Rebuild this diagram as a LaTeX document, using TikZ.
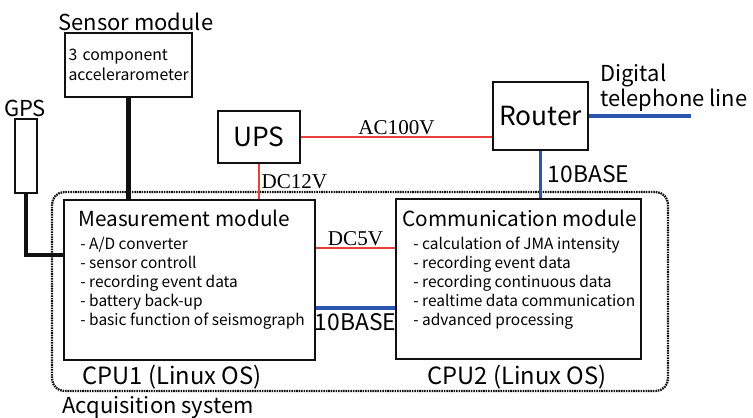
\documentclass[tikz,border=0pt]{standalone}
\usepackage{fontspec}
\setmainfont{Noto Sans CJK JP}
\newfontfamily\voltfont{Liberation Serif}
\usetikzlibrary{positioning,calc}
\definecolor{LinkRed} {HTML}{E8403A}
\definecolor{LinkBlue}{HTML}{2A56B0}
\definecolor{LineBlack}{HTML}{111111}

\begin{document}
\begin{tikzpicture}[x=0.02cm,y=-0.02cm,
    unit/.style={draw=LineBlack,line width=1.1pt,inner sep=0pt},
    bigtext/.style={font=\fontsize{12.5}{14}\selectfont},
    smalltext/.style={font=\fontsize{8.8}{10.8}\selectfont,align=left,anchor=north west,inner sep=0pt},
    volttext/.style={font=\voltfont\fontsize{12}{13}\selectfont,text=black,inner sep=1pt},
    lantext/.style={font=\fontsize{13}{14}\selectfont,text=black},
    serial/.style={line width=2.4pt,LineBlack},
    power/.style={line width=0.9pt,LinkRed},
    lan/.style={line width=1.8pt,LinkBlue}]
    \useasboundingbox (0,0) rectangle (753,417);
    % Acquisition system
    \draw[LineBlack,line width=1.3pt,dash pattern=on 0.9pt off 0.5pt,rounded corners=7pt]
      (52,192) rectangle (668,391);
    \node[bigtext,anchor=west,inner sep=0pt] (acqlbl) at (62,408) {Acquisition system};
    % Sensor module
    \node[bigtext] (sensorlbl) at (136,22) {Sensor module};
    \node[unit,minimum width=2.54cm,minimum height=1.28cm,
          font=\fontsize{9}{11}\selectfont,align=left,text width=2.4cm] (sensor) at (128.5,65)
      {3 component\\accelerarometer};
    % GPS
    \node[bigtext] (gpslbl) at (25,108) {GPS};
    \node[unit,minimum width=0.44cm,minimum height=1.48cm] (gps) at (26,156) {};
    % UPS
    \node[unit,minimum width=1.64cm,minimum height=1.04cm,font=\fontsize{15}{16}\selectfont] (ups) at (259,137) {UPS};
    % Router
    \node[unit,minimum width=1.9cm,minimum height=1.36cm,font=\fontsize{15}{16}\selectfont] (router) at (540.5,116) {Router};
    \coordinate (phone) at (691,116);
    \node[bigtext,anchor=north west,align=left,inner sep=0pt] (phonelbl) at (600,64) {Digital\\telephone line};
    % Measurement module
    \node[unit,minimum width=5.02cm,minimum height=3.2cm] (meas) at (189.5,280) {};
    \node[font=\fontsize{11.8}{13}\selectfont,anchor=west,inner sep=0pt] (meastitle) at (78,218) {Measurement module};
    \node[smalltext] (measlist) at (80,237)
      {- A/D converter\\- sensor controll\\- recording event data\\- battery back-up\\- basic function of seismograph};
    \node[font=\fontsize{13.5}{15}\selectfont] (cpu1) at (172,377) {CPU1 (Linux OS)};
    % Communication module
    \node[unit,minimum width=4.9cm,minimum height=3.2cm] (comm) at (518.5,279) {};
    \node[font=\fontsize{11.8}{13}\selectfont,anchor=west,inner sep=0pt] (commtitle) at (402,218) {Communication module};
    \node[smalltext] (commlist) at (413,237)
      {- calculation of JMA intensity\\- recording event data\\- recording continuous data\\- realtime data communication\\- advanced processing};
    \node[font=\fontsize{13.5}{15}\selectfont] (cpu2) at (517,377) {CPU2 (Linux OS)};
    % connections
    \draw[serial] (sensor.south) -- (sensor.south |- meas.north);
    \draw[serial] (gps.south) |- ([yshift=0.5cm]meas.west);
    \draw[power] (ups.east) -- (ups.east -| router.west)
      node[volttext,midway,above] (aclbl) {AC100V};
    \draw[power] (ups.south) -- (ups.south |- meas.north)
      node[volttext,midway,right] (dc12lbl) {DC12V};
    \draw[power] ([yshift=0.64cm]meas.east) -- ([yshift=0.64cm]meas.east -| comm.west)
      node[volttext,midway,above] (dc5lbl) {DC5V};
    \draw[lan] ([yshift=-0.56cm]meas.east) -- ([yshift=-0.56cm]meas.east -| comm.west)
      node[lantext,midway,below,inner sep=2pt] (lanlbl) {10BASE};
    \draw[lan] (router.south) -- (router.south |- comm.north)
      node[lantext,midway,right] (wanlbl) {10BASE};
    \draw[lan] (router.east) -- (phone);
\end{tikzpicture}
\end{document}
